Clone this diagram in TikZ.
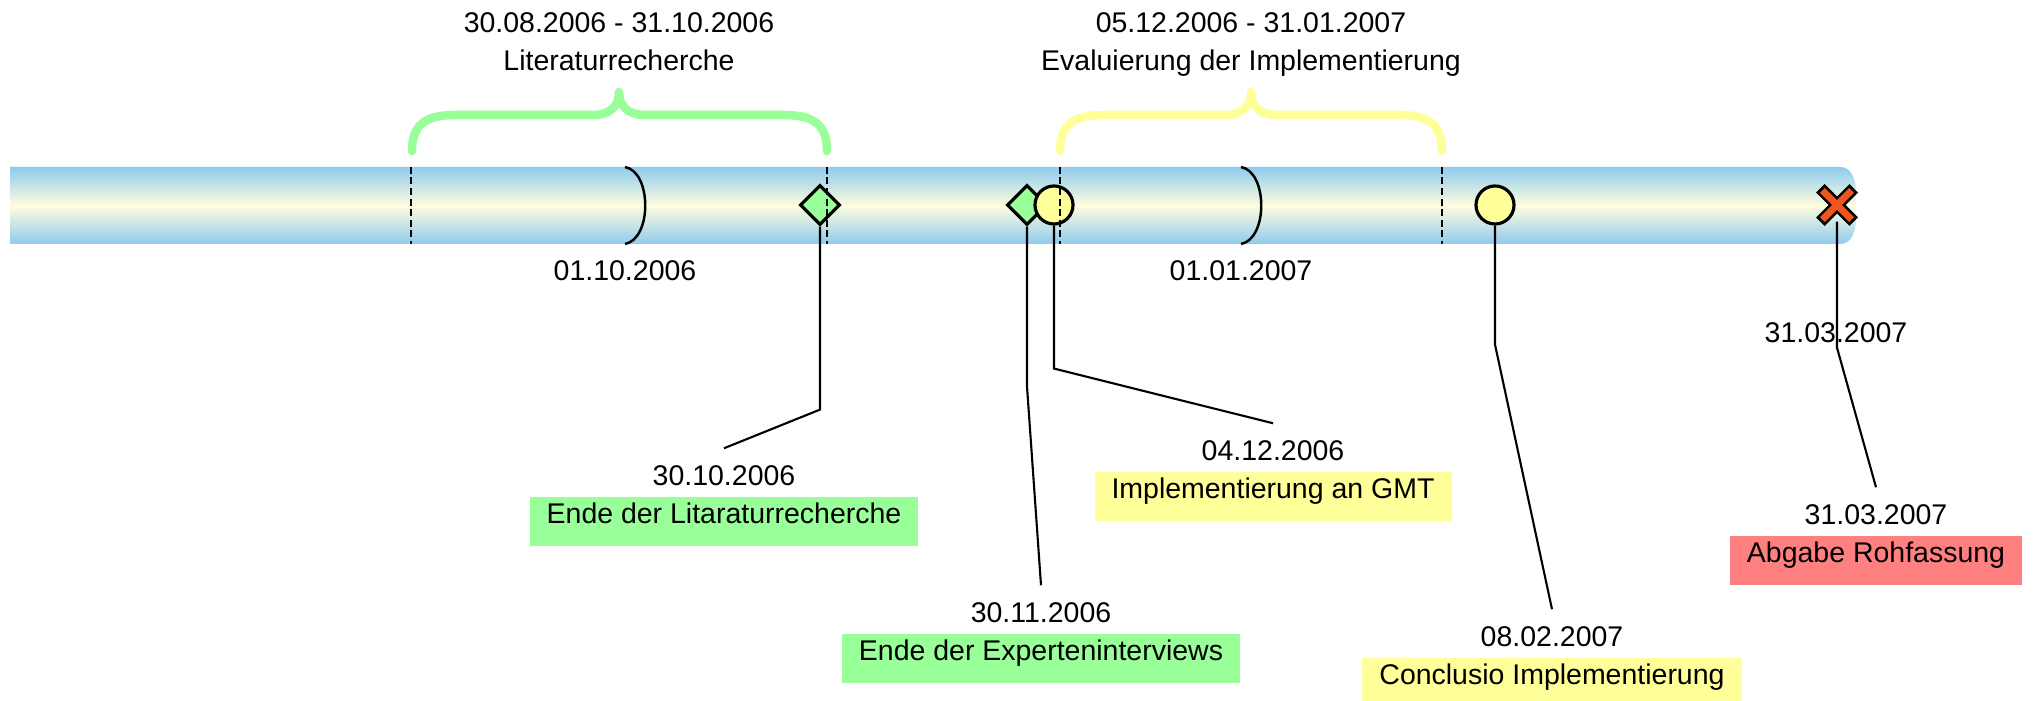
\documentclass[tikz,border=0pt]{standalone}
\usepackage{fontspec}
\setmainfont{Liberation Sans}
\usetikzlibrary{shapes.geometric,positioning}

\definecolor{barblue}{RGB}{143,203,238}
\definecolor{barcream}{RGB}{255,253,222}
\definecolor{phasegreen}{RGB}{153,255,153}
\definecolor{phaseyellow}{RGB}{255,255,153}
\definecolor{deadlinered}{RGB}{255,128,128}
\definecolor{crossorange}{RGB}{240,85,30}

\tikzset{
  milestone/.style={diamond, draw, line width=0.9pt, fill=phasegreen, minimum size=0.40cm, inner sep=0pt},
  checkpoint/.style={circle, draw, line width=0.9pt, fill=phaseyellow, minimum size=0.38cm, inner sep=0pt},
  deadline/.style={minimum size=0.32cm, inner sep=0pt},
  datum/.style={anchor=base, inner xsep=0pt, inner ysep=0.17cm, text height=0.2cm, text depth=0pt},
  eventbox/.style={fill=#1, inner xsep=0.17cm, inner ysep=0.07cm, text height=0.2cm, text depth=0.15cm},
  leader/.style={line width=0.6pt},
  phasetick/.style={line width=0.7pt, dash pattern=on 0.07cm off 0.035cm},
  phasebrace/.style={draw=#1, line width=0.085cm, line cap=round, line join=round},
}

\begin{document}
\begin{tikzpicture}[x=0.01cm, y=-0.01cm, every node/.style={font=\fontsize{8.1}{9.7}\selectfont}]
  \useasboundingbox (0,0) rectangle (2033,701);

  % timeline bar
  \shade[top color=barblue, bottom color=barblue, middle color=barcream]
    (10,167) -- (1840,167) .. controls (1852,167) and (1856,180) .. (1856,193)
    -- (1856,218) .. controls (1856,231) and (1852,244) .. (1840,244) -- (10,244) -- cycle;

  % phase braces
  \draw[phasebrace=phasegreen] (412,151) .. controls (412,125) and (425,115) .. (455,115) -- (593,115)
    .. controls (610,115) and (619,106) .. (619,92) .. controls (619,106) and (628,115) .. (645,115)
    -- (784,115) .. controls (814,115) and (827,125) .. (827,151);
  \draw[phasebrace=phaseyellow] (1060,151) .. controls (1060,125) and (1073,115) .. (1103,115) -- (1225,115)
    .. controls (1242,115) and (1251,106) .. (1251,92) .. controls (1251,106) and (1260,115) .. (1277,115)
    -- (1399,115) .. controls (1429,115) and (1442,125) .. (1442,151);

  \node[anchor=base] (p1a) at (619,33) {30.08.2006 - 31.10.2006};
  \node[anchor=base] (p1b) at (619,71) {Literaturrecherche};
  \node[anchor=base] (p2a) at (1251,33) {05.12.2006 - 31.01.2007};
  \node[anchor=base] (p2b) at (1251,71) {Evaluierung der Implementierung};

  % month marks
  \draw[line width=0.7pt] (625,167) .. controls (652,172) and (652,239) .. (625,244);
  \draw[line width=0.7pt] (1241,167) .. controls (1268,172) and (1268,239) .. (1241,244);
  \node[anchor=base] (q1) at (625,281) {01.10.2006};
  \node[anchor=base] (q2) at (1241,281) {01.01.2007};
  \node[anchor=base] (q3) at (1836,343) {31.03.2007};

  % markers
  \node[milestone] (m1) at (820,205) {};
  \node[milestone] (m2) at (1027,205) {};
  \node[checkpoint] (m3) at (1054,205) {};
  \node[checkpoint] (m4) at (1495,205) {};
  \node[deadline] (m5) at (1837,205) {};
  \foreach \a/\b in {north west/south east, north east/south west}
    \draw[line width=0.12cm] (m5.\a) -- (m5.\b);
  \foreach \a/\b in {north west/south east, north east/south west}
    \draw[line width=0.07cm, crossorange, shorten <=0.03cm, shorten >=0.03cm] (m5.\a) -- (m5.\b);

  % phase borders
  \foreach \x in {411,827,1060,1442}
    \draw[phasetick] (\x,167) -- (\x,244);

  % events
  \node[datum] (d1) at (724,486) {30.10.2006};
  \node[eventbox=phasegreen, below=0.1cm of d1.base] (b1) {Ende der Litaraturrecherche};
  \node[datum] (d2) at (1041,623) {30.11.2006};
  \node[eventbox=phasegreen, below=0.1cm of d2.base] (b2) {Ende der Experteninterviews};
  \node[datum] (d3) at (1273,461) {04.12.2006};
  \node[eventbox=phaseyellow, below=0.1cm of d3.base] (b3) {Implementierung an GMT};
  \node[datum] (d4) at (1552,647) {08.02.2007};
  \node[eventbox=phaseyellow, below=0.1cm of d4.base] (b4) {Conclusio Implementierung};
  \node[datum] (d5) at (1876,525) {31.03.2007};
  \node[eventbox=deadlinered, below=0.1cm of d5.base] (b5) {Abgabe Rohfassung};

  \draw[leader] (m1.south) -- ++(0,183) -- (d1.north);
  \draw[leader] (m2.south) -- ++(0,160) -- (d2.north);
  \draw[leader] (m3.south) -- ++(0,143) -- (d3.north);
  \draw[leader] (m4.south) -- ++(0,119) -- (d4.north);
  \draw[leader] (m5.south) -- ++(0,126) -- (d5.north);
\end{tikzpicture}
\end{document}
